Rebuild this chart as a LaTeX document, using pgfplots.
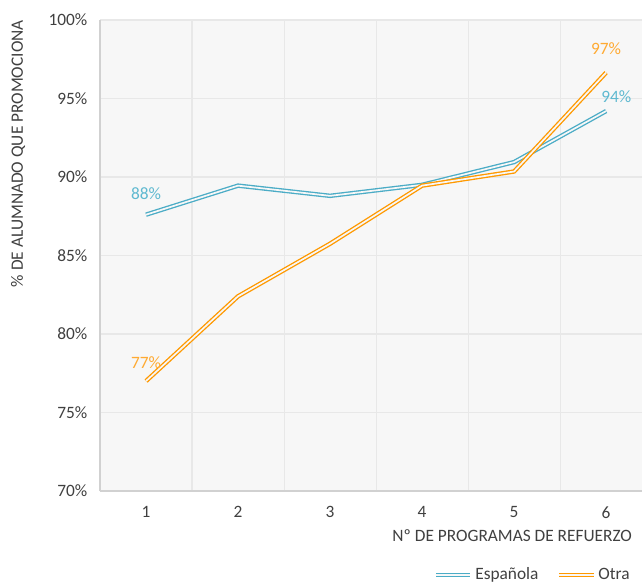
\documentclass[border=0pt]{standalone}
\usepackage{pgfplots}
\pgfplotsset{compat=1.18}
\usepackage{fontspec}
\setmainfont{Carlito}
\definecolor{esp}{RGB}{75,172,198}
\definecolor{otr}{RGB}{255,153,0}
\definecolor{espl}{RGB}{95,185,208}
\definecolor{otrl}{RGB}{255,170,50}
\definecolor{bgc}{RGB}{247,247,247}
\definecolor{gridc}{RGB}{232,232,232}
\definecolor{txt}{RGB}{64,64,64}
\begin{document}
\begin{tikzpicture}
\path[use as bounding box] (-75pt,-70.5pt) rectangle (406.5pt,368.25pt);
\begin{axis}[
  scale only axis, width=406.5pt, height=353.25pt,
  xmin=0.5, xmax=6.39, ymin=70, ymax=100,
  xtick={1,2,3,4,5,6},
  minor xtick={1.5,2.5,3.5,4.5,5.5},
  ytick={70,75,80,85,90,95,100},
  yticklabel={\pgfmathprintnumber{\tick}\%},
  /pgf/number format/assume math mode=true,
  xminorgrids=true, ymajorgrids=true,
  grid style={gridc, line width=0.8pt},
  minor grid style={gridc, line width=0.8pt},
  major tick length=0pt, minor tick length=0pt,
  axis x line*=bottom, axis y line*=left,
  axis line style={draw=gridc!90!black, line width=0.9pt, -},
  axis background/.style={fill=bgc},
  tick label style={font=\fontsize{13}{15}\selectfont, text=txt},
  xticklabel style={yshift=-8pt},
  yticklabel style={xshift=-6pt},
  xlabel={Nº DE PROGRAMAS DE REFUERZO},
  xlabel style={at={(axis description cs:0.982,0)}, anchor=north east, yshift=-29pt, font=\fontsize{13}{15}\selectfont, text=txt, inner sep=0pt},
  ylabel={\% DE ALUMNADO QUE PROMOCIONA},
  ylabel style={at={(axis description cs:-0.151,1)}, anchor=east, font=\fontsize{13}{15}\selectfont, text=txt, inner sep=0pt},
  legend style={at={(axis description cs:0.99,-0.178)}, anchor=east, draw=none, fill=none, legend columns=2, font=\fontsize{13}{15}\selectfont, text=txt, /tikz/every even column/.append style={column sep=12pt}},
  legend image code/.code={\draw[#1] (0cm,0cm) -- (0.9cm,0cm);},
  clip=false,
]
\addplot[esp, line width=1pt, double=bgc, double distance=1.3pt] coordinates {(1,87.6) (2,89.45) (3,88.8) (4,89.5) (5,90.95) (6,94.2)};
\addlegendentry{Española}
\addplot[otr, line width=1pt, double=bgc, double distance=1.3pt] coordinates {(1,77.0) (2,82.4) (3,85.75) (4,89.45) (5,90.35) (6,96.65)};
\addlegendentry{Otra}
\node[espl, font=\fontsize{13}{15}\selectfont] at (axis cs:1,88.97) {88\%};
\node[otrl, font=\fontsize{13}{15}\selectfont] at (axis cs:1,78.2) {77\%};
\node[otrl, font=\fontsize{13}{15}\selectfont] at (axis cs:6,98.15) {97\%};
\node[espl, font=\fontsize{13}{15}\selectfont] at (axis cs:6.11,95.1) {94\%};
\end{axis}
\end{tikzpicture}
\end{document}
